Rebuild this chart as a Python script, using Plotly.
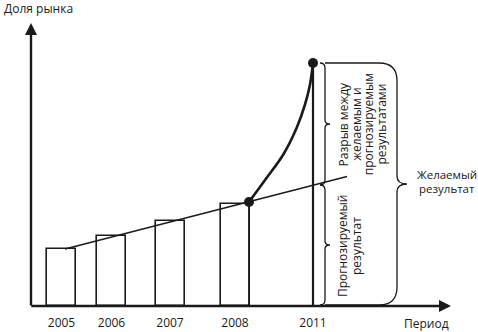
import plotly.graph_objects as go

# ---- data (schematic units) ----
years = ["2005", "2006", "2007", "2008", "2011"]
x_pos = [30.5, 80.5, 139, 204, 282]          # position of each period on the axis
share = [57, 70, 85, 102]                    # bar heights 2005..2008
trend_x = [34, 218, 282, 316]
trend_y = [57, 104, 121, 129.5]
forecast_2011 = 121
desired_2011 = 243
curve_x = [218, 235.7, 252.3, 265.7, 274, 279, 282]
curve_y = [104, 128.2, 151.5, 178.2, 201.5, 221.5, 243]

FONT = "Open Sans"
INK = "#1a1a1a"
W, H = 478, 332
L, R, T, B = 31, 23, 20, 26
XR = [0, W - L - R]
YR = [0, H - T - B]

fig = go.Figure()

fig.add_trace(go.Bar(x=x_pos[:4], y=share, width=29,
                     marker=dict(color="white", line=dict(color=INK, width=1.6)),
                     showlegend=False))
# 2008 bar edge up to point
fig.add_trace(go.Scatter(x=[curve_x[0], curve_x[0]], y=[0, curve_y[0]], mode="lines",
                         line=dict(color=INK, width=1.6), showlegend=False))
# trend (forecast) line
fig.add_trace(go.Scatter(x=trend_x, y=trend_y, mode="lines",
                         line=dict(color=INK, width=1.4), showlegend=False))
# 2011 vertical
fig.add_trace(go.Scatter(x=[x_pos[4], x_pos[4]], y=[0, desired_2011], mode="lines",
                         line=dict(color=INK, width=2.2), showlegend=False))
# desired growth curve
fig.add_trace(go.Scatter(x=curve_x, y=curve_y, mode="lines",
                         line=dict(color=INK, width=2.6, shape="spline", smoothing=1.0),
                         showlegend=False))
fig.add_trace(go.Scatter(x=[curve_x[0], curve_x[-1]], y=[curve_y[0], curve_y[-1]], mode="markers",
                         marker=dict(color=INK, size=10), showlegend=False))


def brace(x0, xv, ya, yb, r, t, r2):
    mid = (ya + yb) / 2
    return (f"M {x0},{yb} L {xv - r},{yb} Q {xv},{yb} {xv},{yb - r} "
            f"L {xv},{mid + r2} Q {xv},{mid} {xv + t},{mid} "
            f"Q {xv},{mid} {xv},{mid - r2} L {xv},{ya + r} "
            f"Q {xv},{ya} {xv - r},{ya} L {x0},{ya}")


bx = x_pos[4] + 7
shapes = [
    dict(type="path", xref="x", yref="y", path=brace(bx, bx + 5, forecast_2011, desired_2011, 5, 5, 4),
         line=dict(color=INK, width=1.3)),
    dict(type="path", xref="x", yref="y", path=brace(bx, bx + 5, 1, forecast_2011, 5, 5, 4),
         line=dict(color=INK, width=1.3)),
    dict(type="path", xref="x", yref="y", path=brace(bx + 5, bx + 77, 1, desired_2011, 18, 10, 8),
         line=dict(color=INK, width=1.3)),
]

ann = []
# axes with arrows
ann.append(dict(x=0, y=283, ax=0, ay=-1, xref="x", yref="y", axref="x", ayref="y",
                showarrow=True, arrowhead=2, arrowsize=1, arrowwidth=2.4, arrowcolor=INK, text=""))
ann.append(dict(x=420, y=0, ax=-1.2, ay=0, xref="x", yref="y", axref="x", ayref="y",
                showarrow=True, arrowhead=2, arrowsize=1, arrowwidth=2.4, arrowcolor=INK, text=""))


def lines_block(lines, xc, yc, spacing, angle=0, size=12):
    n = len(lines)
    for i, s in enumerate(lines):
        off = (i - (n - 1) / 2) * spacing
        if angle == -90:
            ann.append(dict(x=xc + off, y=yc, xref="x", yref="y", text=s, showarrow=False,
                            textangle=-90, font=dict(family=FONT, size=size, color=INK),
                            xanchor="center", yanchor="middle"))
        else:
            ann.append(dict(x=xc, y=yc - off, xref="x", yref="y", text=s, showarrow=False,
                            font=dict(family=FONT, size=size, color=INK),
                            xanchor="center", yanchor="middle", borderpad=0))


lines_block(["Разрыв между", "желаемым и", "прогнозируемым", "результатами"],
            331, (forecast_2011 + desired_2011) / 2, 12.4, angle=-90, size=12)
lines_block(["Прогнозируемый", "результат"], 318.5, forecast_2011 / 2 - 1, 14, angle=-90, size=12)
lines_block(["Желаемый", "результат"], 415.5, desired_2011 / 2 + 3, 14.5, size=11.5)


def px(v):
    return v / XR[1]


def py(v):
    return v / YR[1]


ann.append(dict(x=px(-29), y=py(298), xref="paper", yref="paper", text="Доля рынка", showarrow=False,
                xanchor="left", yanchor="middle", font=dict(family=FONT, size=12, color=INK)))
ann.append(dict(x=px(395), y=py(-17), xref="paper", yref="paper", text="Период", showarrow=False,
                xanchor="center", yanchor="middle", font=dict(family=FONT, size=12, color=INK)))

fig.update_layout(
    width=W, height=H, margin=dict(l=L, r=R, t=T, b=B, pad=0, autoexpand=False),
    paper_bgcolor="white", plot_bgcolor="white",
    xaxis=dict(range=XR, showgrid=False, zeroline=False, showline=False,
               tickvals=x_pos, ticktext=years, ticks="", fixedrange=True,
               ticklabelstandoff=8, automargin=False,
               tickfont=dict(family=FONT, size=12, color=INK)),
    yaxis=dict(range=YR, showgrid=False, zeroline=False, showline=False,
               showticklabels=False, ticks="", automargin=False),
    shapes=shapes, annotations=ann, bargap=0,
)

fig.write_html("out.html")
